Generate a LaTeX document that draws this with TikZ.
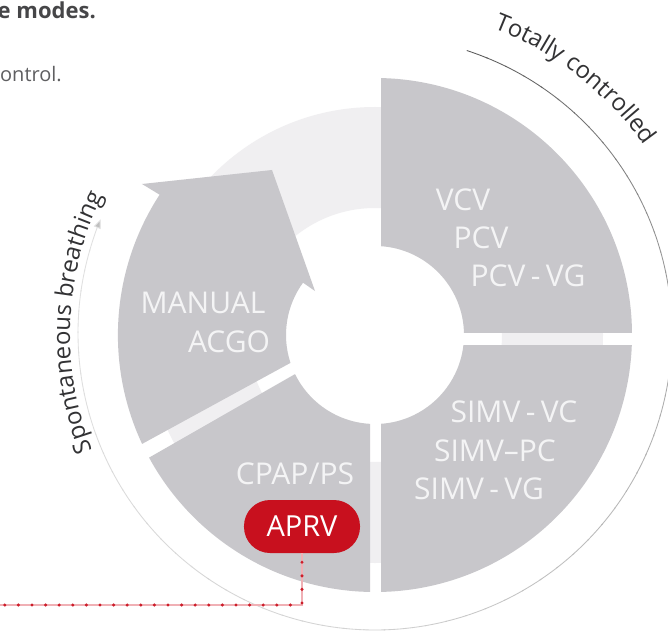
\documentclass[tikz,border=0pt]{standalone}
\usepackage{fontspec}
\setmainfont{Open Sans}
\usetikzlibrary{decorations.text,arrows.meta,calc}
\definecolor{sect}{RGB}{200,199,203}
\definecolor{band}{RGB}{240,239,241}
\definecolor{lbl}{RGB}{244,244,245}
\definecolor{aprvred}{RGB}{200,16,30}
\definecolor{dotred}{RGB}{204,30,42}
\definecolor{linered}{RGB}{240,176,181}
\definecolor{headtxt}{RGB}{70,70,72}
\definecolor{subtxt}{RGB}{95,95,97}
\definecolor{arctxt}{RGB}{50,50,52}
\newcommand{\hy}{\hspace{0.18em}-\hspace{0.18em}}
\begin{document}
\begin{tikzpicture}[x=1pt,y=1pt,
  seclabel/.style={text=lbl, font=\fontsize{30}{30}\selectfont, inner sep=0pt, anchor=base},
  sectfill/.style={fill=sect, even odd rule},
  pill/.style={fill=aprvred, text=white, rounded corners=26pt, minimum width=116pt,
    minimum height=53pt, inner sep=0pt, font=\fontsize{29}{29}\selectfont},
  redline/.style={draw=linered, line width=2.4pt},
  reddots/.style={draw=dotred, line width=3.4pt, line cap=round, dash pattern=on 0pt off 13.6pt, dash phase=4.6pt}]
\useasboundingbox (-375,-297) rectangle (293,335);
\fill[white] (-375,-297) rectangle (293,335);
% light middle band
\fill[band, even odd rule] (0,0) circle[radius=228pt] (0,0) circle[radius=127pt];
% top-right sector
\begin{scope}
  \clip (6,3) rectangle (300,300);
  \path[sectfill] (0,0) circle[radius=257pt] (0,0) circle[radius=89pt];
\end{scope}
% bottom-right sector
\begin{scope}
  \clip (6,-10) rectangle (300,-300);
  \path[sectfill] (0,0) circle[radius=257pt] (0,0) circle[radius=89pt];
\end{scope}
% bottom-left sector
\begin{scope}
  \clip (-5,3.8) -- (-300,-165) -- (-300,-300) -- (-5,-300) -- cycle;
  \path[sectfill] (0,0) circle[radius=257pt] (0,0) circle[radius=89pt];
\end{scope}
% manual arrow sector
\fill[sect] (-232.9,-108.9) arc[start angle=205.06, end angle=146.9, radius=257pt]
  -- (-233,151) -- (-103,165) -- (-60,44) -- (144:89pt)
  arc[start angle=144, end angle=198.25, radius=89pt] -- cycle;
% thin outer arc with fading colour
\foreach \a in {72,68,...,-192}{
  \pgfmathsetmacro{\b}{\a-4.3}
  \pgfmathtruncatemacro{\p}{(\a>0) ? (35+30*\a/72) : ((\a>-90) ? (35+17*\a/90) : (18+6*(\a+90)/102))}
  \draw[draw=black!\p, line width=0.85pt] ($(0,2)+(\a:297pt)$) arc[start angle=\a, end angle=\b, radius=297pt];
}
\draw[draw=black!12, line width=0.85pt, -{Triangle[length=9pt,width=7pt,fill=black!25]}]
  ($(0,2)+(-196:297pt)$) arc[start angle=-196, end angle=-202.5, radius=297pt];
% arc texts
\path[decorate, decoration={text along path, text align=center,
  text={|\fontsize{24}{24}\selectfont\color{arctxt}|Totally controlled}}]
  (81:329pt) arc[start angle=81, end angle=23, radius=329pt];
\path[decorate, decoration={text along path, text align=center,
  text={|\fontsize{24}{24}\selectfont\color{arctxt}|Spontaneous breathing}}]
  (215:305pt) arc[start angle=215, end angle=140, radius=305pt];
% heading texts
\node[anchor=base east, inner sep=0pt, text=headtxt, font=\fontsize{22}{22}\selectfont\bfseries] (head) at (-279,316) {e modes.};
\node[anchor=base east, inner sep=0pt, text=subtxt, font=\fontsize{20}{20}\selectfont] (sub) at (-313,253) {ontrol.};
% sector labels
\node[seclabel] (vcv) at (88,124.5) {VCV};
\node[seclabel] (pcv) at (106,86.5) {PCV};
\node[seclabel] (pcvvg) at (153,48.5) {PCV\hy VG};
\node[seclabel] (simvvc) at (139,-87.5) {SIMV\hy VC};
\node[seclabel] (simvpc) at (120,-126.5) {SIMV–PC};
\node[seclabel] (simvvg) at (104,-164.5) {SIMV\hy VG};
\node[seclabel] (manual) at (-172,21.5) {MANUAL};
\node[seclabel] (acgo) at (-146,-17.5) {ACGO};
\node[seclabel] (cpap) at (-80,-149.5) {CPAP/PS};
\node[pill] (aprv) at (-73,-191.5) {APRV};
% dotted red connector
\coordinate (lineend) at (-376,-270);
\draw[redline] (aprv.south) |- (lineend);
\draw[reddots] (aprv.south) |- (lineend);
\end{tikzpicture}
\end{document}
